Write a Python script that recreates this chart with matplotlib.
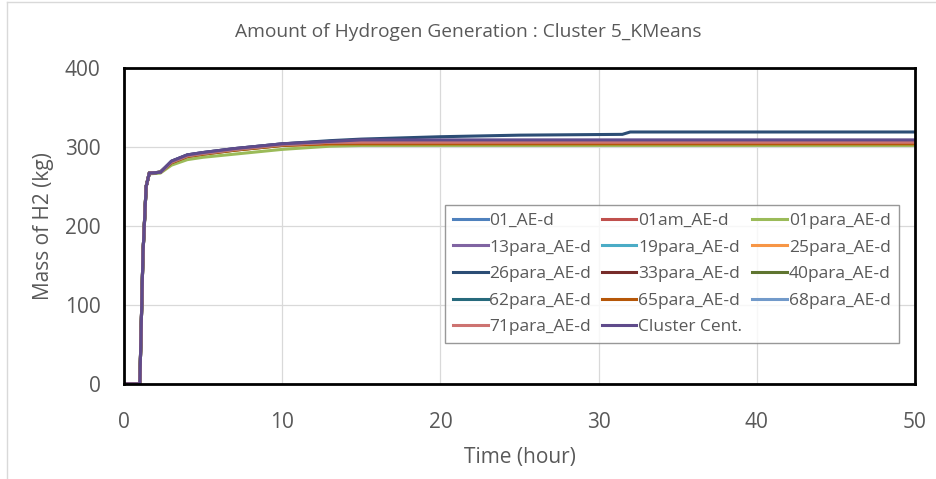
import matplotlib
matplotlib.use("Agg")
import matplotlib.pyplot as plt
from matplotlib.lines import Line2D

plt.rcParams['font.family'] = ['Open Sans', 'DejaVu Sans']

# time points (hour)
hours = [0, 1.0, 1.2, 1.4, 1.6, 2.3, 3.0, 4.0, 5.0, 7.0, 10.0, 13.0, 15.0, 20.0, 25.0, 31.5, 32.0, 50.0]

names = ["01_AE-d", "01am_AE-d", "01para_AE-d", "13para_AE-d", "19para_AE-d", "25para_AE-d",
         "26para_AE-d", "33para_AE-d", "40para_AE-d", "62para_AE-d", "65para_AE-d", "68para_AE-d",
         "71para_AE-d", "Cluster Cent."]

colors = ["#4F81BD", "#C0504D", "#9BBB59", "#8064A2", "#4BACC6", "#F79646",
          "#2C4D75", "#772C2A", "#5F7530", "#276A7C", "#B65708", "#729ACA",
          "#CD7371", "#5F4B8B"]

# mass of H2 (kg)
m01 = [0, 0, 165, 250, 267, 268, 281, 289, 292, 297, 303, 306, 307, 307, 307, 307, 307, 307]
m01am = [0, 0, 165, 250, 267, 268, 281, 289, 292, 297, 303, 306, 306, 306, 306, 306, 306, 306]
m01para = [0, 0, 165, 250, 266, 267, 277, 284, 287, 291, 297, 301, 302, 302, 302, 302, 302, 302]
m13para = [0, 0, 165, 250, 267, 268, 282, 290, 293, 298, 304, 307, 308, 308, 308, 308, 308, 308]
m19para = [0, 0, 165, 250, 267, 268, 281, 289, 292, 297, 303, 306, 307, 307, 307, 307, 307, 307]
m25para = [0, 0, 165, 250, 267, 268, 280, 288, 291, 296, 302, 304, 305, 305, 305, 305, 305, 305]
m26para = [0, 0, 165, 250, 267, 268, 282, 290, 293, 298, 304, 308, 310, 313, 315, 316, 319, 319]
m33para = [0, 0, 165, 250, 267, 268, 281, 289, 292, 297, 303, 306, 306, 306, 306, 306, 306, 306]
m40para = [0, 0, 165, 250, 267, 268, 280, 288, 291, 296, 302, 305, 305, 305, 305, 305, 305, 305]
m62para = [0, 0, 165, 250, 267, 268, 281, 289, 292, 297, 303, 306, 307, 307, 307, 307, 307, 307]
m65para = [0, 0, 165, 250, 267, 268, 280, 288, 291, 296, 302, 304, 304, 304, 304, 304, 304, 304]
m68para = [0, 0, 165, 250, 267, 268, 281, 289, 292, 297, 303, 306, 307, 307, 307, 307, 307, 307]
m71para = [0, 0, 165, 250, 267, 268, 281, 289, 292, 297, 303, 306, 306, 306, 306, 306, 306, 306]
mcent = [0, 0, 165, 250, 267, 268, 282, 290, 293, 298, 304, 307, 309, 309, 309, 309, 309, 309]

series = [m01, m01am, m01para, m13para, m19para, m25para, m26para, m33para,
          m40para, m62para, m65para, m68para, m71para, mcent]

fig = plt.figure(figsize=(9.37, 4.79), dpi=100)
ax = fig.add_axes([124/937, 1 - 384/479, (915-124)/937, (384-68)/479])

for name, col, vals in zip(names, colors, series):
    ax.plot(hours, vals, color=col, lw=2.2, label=name)

ax.set_xlim(0, 50)
ax.set_ylim(0, 400)
ax.set_xticks([0, 10, 20, 30, 40, 50])
ax.set_yticks([0, 100, 200, 300, 400])
ax.grid(True, color="#D9D9D9", lw=0.9)
ax.set_axisbelow(True)
for s in ax.spines.values():
    s.set_color("black")
    s.set_linewidth(2)
ax.tick_params(length=0, labelsize=15, labelcolor="#595959")
ax.tick_params(axis="y", pad=17)
ax.tick_params(axis="x", pad=20)

ax.set_xlabel("Time (hour)", fontsize=15, color="#595959", labelpad=10)
ax.set_ylabel("Mass of H2 (kg)", fontsize=15, color="#595959", labelpad=8)
fig.text(0.5, 1 - 32/479, "Amount of Hydrogen Generation : Cluster 5_KMeans",
         ha="center", va="center", fontsize=13.8, color="#595959")

# row-wise legend order
handles, labels = ax.get_legend_handles_labels()
order = [0, 3, 6, 9, 12, 1, 4, 7, 10, 13, 2, 5, 8, 11]
leg = ax.legend([handles[i] for i in order], [labels[i] for i in order], ncol=3,
                loc="upper left", bbox_to_anchor=((445-124)/791, 1 - (205-68)/316),
                fontsize=12.5, frameon=True, fancybox=False, handlelength=2.0,
                handletextpad=0.1, columnspacing=0.6, labelspacing=0.6,
                borderpad=0.45, borderaxespad=0, labelcolor="#595959")
leg.get_frame().set_edgecolor("#7F7F7F")
leg.get_frame().set_linewidth(1)

# light border of the chart area
fig.add_artist(Line2D([7/937, 7/937], [0, 1 - 2/479], color="#D9D9D9", lw=1))
fig.add_artist(Line2D([7/937, 1], [1 - 2/479, 1 - 2/479], color="#D9D9D9", lw=1))

fig.savefig("out.png", dpi=100)
